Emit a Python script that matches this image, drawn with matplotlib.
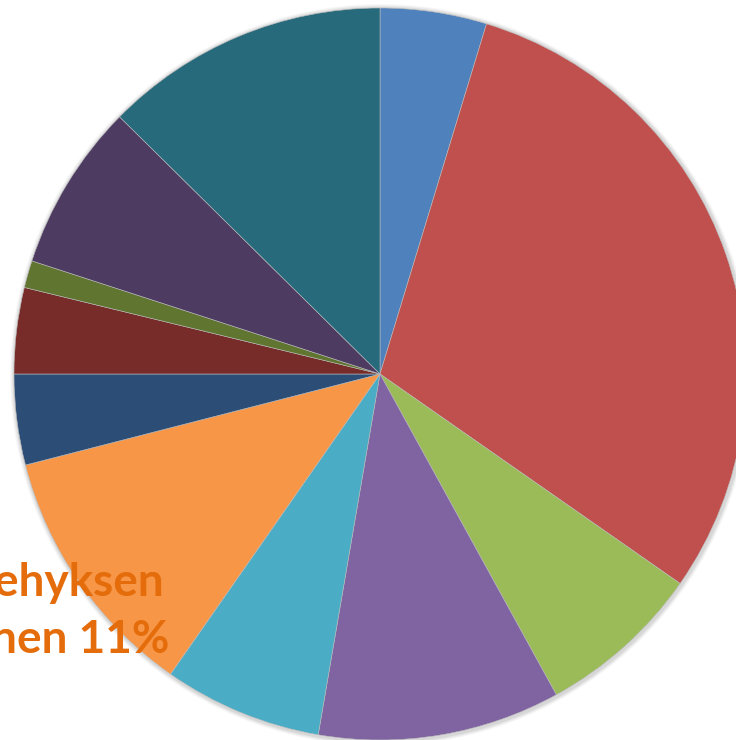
import matplotlib.pyplot as plt
from matplotlib.patches import Circle

# slice shares in percent, clockwise from 12 o'clock
values = [4.7, 30.0, 7.3, 10.7, 7.0, 11.3, 4.0, 3.8, 1.2, 7.4, 12.6]
colors = ['#4F81BD', '#C0504D', '#9BBB59', '#8064A2', '#4BACC6', '#F79646',
          '#2C4D75', '#772C2A', '#5F7530', '#4D3B62', '#276A7C']
label_lines = ['Toimintakehyksen', 'ulkopuolinen 11%']

W, H = 736, 740
fig = plt.figure(figsize=(W / 100, H / 100), dpi=100)
ax = fig.add_axes([0, 0, 1, 1])

cx, cy, r = 380, H - 374, 366

# soft shadow around the pie
for i, a in enumerate([0.05, 0.07, 0.09, 0.12]):
    ax.add_patch(Circle((cx + 1, cy - 1), r + 5 - i, color='#808080', alpha=a, lw=0, zorder=0))

ax.pie(values, colors=colors, startangle=90, counterclock=False,
       center=(cx, cy), radius=r, frame=True,
       wedgeprops=dict(linewidth=0.4, edgecolor='#bbbbbb'))

# label of the orange slice, two lines ending at slightly different x
for (x, y), line in zip([(164, 583), (169, 640)], label_lines):
    ax.text(x, H - y, line, ha='right', va='center', fontsize=33,
            fontweight='bold', color='#E46C0A', family='Lato')

ax.set_xlim(0, W)
ax.set_ylim(0, H)
ax.set_aspect('auto')
ax.axis('off')
fig.savefig('out.png', dpi=100)
